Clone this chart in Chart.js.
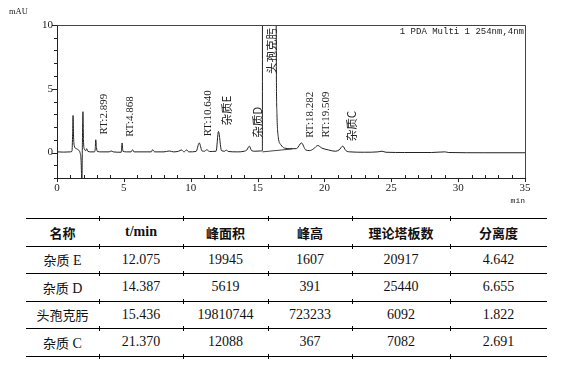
<!DOCTYPE html>
<html>
<head>
<meta charset="utf-8">
<script src="https://cdn.jsdelivr.net/npm/chart.js@4/dist/chart.umd.min.js"></script>
<style>
  html, body { margin: 0; padding: 0; background: #fff; width: 564px; height: 368px; overflow: hidden; }
  #wrap { position: absolute; left: 0; top: 0; width: 564px; height: 210px; }
  #tbl { position: absolute; left: 26px; top: 218px; width: 521px; border-collapse: collapse; table-layout: fixed;
         font-family: "Liberation Serif", "Noto Sans CJK SC", serif; font-size: 14px; color: #111; }
  #tbl td, #tbl th { height: 26.5px; padding: 0; text-align: center; vertical-align: middle;
         border-top: 1.5px solid #000; border-bottom: 1.5px solid #000; white-space: nowrap; }
  #tbl th { font-weight: bold; }
  .cjk { font-family: "Noto Sans CJK SC", sans-serif; font-size: 13px; }
  .mark { position: absolute; width: 1px; height: 5px; background: #000; }
</style>
</head>
<body>
<div id="wrap"><canvas id="c" width="564" height="210"></canvas></div>
<table id="tbl"></table>
<script>
// ---------- chromatogram data ----------
const retentionTime = [
  0.0, 0.5, 1.0, 1.12, 1.17, 1.2, 1.24, 1.3, 1.45, 1.6, 1.72, 1.8, 1.86, 1.9, 1.94, 1.98,
  2.05, 2.15, 2.22, 2.3, 2.5, 2.8, 2.86, 2.899, 2.95, 3.02, 3.3, 3.9, 4.05, 4.2, 4.8, 4.868,
  4.93, 5.2, 5.55, 5.65, 5.75, 6.5, 7.05, 7.15, 7.3, 8.0, 8.4, 8.7, 9.1, 9.3, 9.5, 9.7,
  9.85, 10.4, 10.64, 10.85, 11.05, 11.2, 11.4, 11.9, 12.075, 12.3, 12.55, 12.65, 12.8, 13.5,
  14.0, 14.2, 14.387, 14.55, 14.8, 15.2, 15.36, 15.436, 16.4, 16.45, 16.55, 16.75, 17.0, 17.4,
  17.9, 18.282, 18.6, 18.9, 19.2, 19.509, 19.8, 20.3, 20.8, 21.1, 21.37, 21.6, 21.9, 23.0,
  24.0, 24.3, 24.6, 26.0, 28.0, 29.0, 29.3, 32.0, 35.0
];
const absorbance = [
  0.05, 0.03, 0.05, 0.1, 1.5, 2.9, 1.2, 0.5, 0.3, 0.2, 0.0, -0.6, -2.4, 0.8, 3.2, 1.0,
  0.25, 0.15, 0.3, 0.1, 0.05, 0.05, 0.3, 1.0, 0.4, 0.08, 0.05, 0.05, 0.12, 0.05, 0.02, 0.75,
  0.1, 0.05, 0.05, 0.22, 0.05, 0.05, 0.05, 0.22, 0.05, 0.05, 0.12, 0.05, 0.1, 0.2, 0.05, 0.2,
  0.05, 0.08, 0.75, 0.12, 0.1, 0.22, 0.08, 0.1, 1.65, 0.15, 0.1, 0.2, 0.08, 0.05,
  0.1, 0.2, 0.5, 0.15, 0.1, 0.12, 0.15, 723.2, 8, 3, 1.2, 0.6, 0.35, 0.3,
  0.3, 0.75, 0.2, 0.15, 0.3, 0.55, 0.35, 0.2, 0.1, 0.2, 0.5, 0.15, 0.05, 0.02,
  0.05, 0.1, 0.02, 0.0, 0.0, 0.05, 0.0, -0.02, -0.02
];
const baselineTime = [15.36, 17.6];
const baselineSignal = [0.05, 0.28];

const peakTimes = [2.899, 4.868, 10.640, 12.075, 14.387, 15.436, 18.282, 19.509, 21.370];
const peakLabels = ['RT:2.899', 'RT:4.868', 'RT:10.640', '杂质E', '杂质D', '头孢克肟', 'RT:18.282', 'RT:19.509', '杂质C'];
const peakLabelLevel = [1.41, 1.23, 1.27, 2.11, 1.15, 6.15, 1.15, 1.17, 0.88];

const xLabelValues = [0, 5, 10, 15, 20, 25, 30, 35];
const yLabelValues = [0, 5, 10];
const yUnit = 'mAU';
const xUnit = 'min';
const detectorText = '1 PDA Multi 1 254nm,4nm';

// ---------- table data ----------
const tableHeaders = ['名称', 't/min', '峰面积', '峰高', '理论塔板数', '分离度'];
const compoundNames = ['杂质 E', '杂质 D', '头孢克肟', '杂质 C'];
const tableRetention = ['12.075', '14.387', '15.436', '21.370'];
const tableArea = ['19945', '5619', '19810744', '12088'];
const tableHeight = ['1607', '391', '723233', '367'];
const tablePlates = ['20917', '25440', '6092', '7082'];
const tableResolution = ['4.642', '6.655', '1.822', '2.691'];

// ---------- build table ----------
const colWidths = [73, 84, 85, 84, 98, 97];
(function buildTable() {
  const t = document.getElementById('tbl');
  const cg = document.createElement('colgroup');
  colWidths.forEach(w => { const c = document.createElement('col'); c.style.width = w + 'px'; cg.appendChild(c); });
  t.appendChild(cg);
  const wrapCjk = s => s.replace(/([\u4e00-\u9fff]+)/g, '<span class="cjk">$1</span>');
  let tr = document.createElement('tr');
  tableHeaders.forEach(h => { const th = document.createElement('th'); th.innerHTML = wrapCjk(h); tr.appendChild(th); });
  t.appendChild(tr);
  compoundNames.forEach((n, i) => {
    tr = document.createElement('tr');
    [n, tableRetention[i], tableArea[i], tableHeight[i], tablePlates[i], tableResolution[i]].forEach(v => {
      const td = document.createElement('td'); td.innerHTML = wrapCjk(v); tr.appendChild(td);
    });
    t.appendChild(tr);
  });
  // small boundary marks on the rules
  const rect = t.getBoundingClientRect();
  const rows = t.querySelectorAll('tr');
  const ys = [];
  rows.forEach((r, i) => { const rr = r.getBoundingClientRect(); if (i === 0) ys.push(rr.top); ys.push(rr.bottom); });
  let acc = rect.left;
  const xs = [];
  for (let i = 0; i < colWidths.length - 1; i++) { acc += colWidths[i]; xs.push(acc); }
  ys.forEach(y => xs.forEach(x => {
    const d = document.createElement('div'); d.className = 'mark';
    d.style.left = Math.round(x) + 'px'; d.style.top = Math.round(y - 2.5) + 'px';
    document.body.appendChild(d);
  }));
})();

// ---------- chart ----------
const decorations = {
  id: 'decorations',
  afterDraw(chart) {
    const ctx = chart.ctx, a = chart.chartArea;
    const xs = chart.scales.x, ys = chart.scales.y;
    ctx.save();
    ctx.strokeStyle = '#444';
    ctx.lineWidth = 1;
    // frame top & right
    ctx.beginPath();
    ctx.moveTo(Math.round(a.left), Math.round(a.top) + 0.5);
    ctx.lineTo(Math.round(a.right) + 0.5, Math.round(a.top) + 0.5);
    ctx.lineTo(Math.round(a.right) + 0.5, Math.round(a.bottom));
    ctx.stroke();
    // ticks
    ctx.strokeStyle = '#222';
    ctx.beginPath();
    xs.ticks.forEach(t => {
      const px = Math.round(xs.getPixelForValue(t.value)) + 0.5;
      const b = Math.round(a.bottom);
      if (xLabelValues.includes(t.value)) { ctx.moveTo(px, b); ctx.lineTo(px, b + 4); }
      else { ctx.moveTo(px, b); ctx.lineTo(px, b - 3); }
    });
    ys.ticks.forEach(t => {
      const py = Math.round(ys.getPixelForValue(t.value)) + 0.5;
      const l = Math.round(a.left);
      if (yLabelValues.includes(t.value)) { ctx.moveTo(l - 5, py); ctx.lineTo(l, py); }
      else { ctx.moveTo(l - 3, py); ctx.lineTo(l, py); }
    });
    ctx.stroke();
    // peak labels (rotated)
    ctx.fillStyle = '#222';
    peakLabels.forEach((lab, i) => {
      const px = xs.getPixelForValue(peakTimes[i]) + 8.5;
      const py = ys.getPixelForValue(peakLabelLevel[i]);
      const cjk = /[\u4e00-\u9fff]/.test(lab);
      ctx.font = cjk ? '11.5px "Noto Sans CJK SC"' : '11px "Liberation Serif"';
      ctx.save();
      ctx.translate(px, py);
      ctx.rotate(-Math.PI / 2);
      ctx.textAlign = 'left';
      ctx.textBaseline = 'middle';
      ctx.fillText(lab, 0, 0);
      ctx.restore();
    });
    // detector text
    ctx.font = '9px "Liberation Mono"';
    ctx.textAlign = 'right';
    ctx.textBaseline = 'middle';
    ctx.fillText(detectorText, a.right - 1, a.top + 7);
    // units
    ctx.font = '8.5px "Liberation Serif"';
    ctx.textAlign = 'left';
    ctx.fillText(yUnit, a.left - 48, a.top - 13);
    ctx.font = '8px "Liberation Mono"';
    ctx.textAlign = 'right';
    ctx.fillText(xUnit, a.right, a.bottom + 23);
    ctx.restore();
  }
};

new Chart(document.getElementById('c'), {
  type: 'line',
  data: {
    datasets: [
      {
        data: retentionTime.map((t, i) => ({ x: t, y: absorbance[i] })),
        borderColor: '#222', borderWidth: 1, pointRadius: 0,
        cubicInterpolationMode: 'monotone', fill: false
      },
      {
        data: baselineTime.map((t, i) => ({ x: t, y: baselineSignal[i] })),
        borderColor: '#444', borderWidth: 1, pointRadius: 0, fill: false
      }
    ]
  },
  options: {
    responsive: false,
    animation: false,
    devicePixelRatio: 1,
    layout: { padding: { left: 0, right: 39, top: 25, bottom: 10 } },
    plugins: { legend: { display: false }, tooltip: { enabled: false }, title: { display: false } },
    scales: {
      x: {
        type: 'linear', min: 0, max: 35,
        afterBuildTicks: s => { const t = []; for (let v = 0; v <= 35; v++) t.push({ value: v }); s.ticks = t; },
        afterFit: s => { s.height = 22; },
        grid: { display: false, drawTicks: false },
        border: { display: true, color: '#222', width: 1 },
        ticks: {
          autoSkip: false, maxRotation: 0, padding: 4, color: '#222',
          font: { family: 'Liberation Serif', size: 11 },
          callback: v => xLabelValues.includes(v) ? String(v) : ''
        }
      },
      y: {
        type: 'linear', min: -2, max: 10,
        afterBuildTicks: s => { const t = []; for (let v = -2; v <= 10; v++) t.push({ value: v }); s.ticks = t; },
        afterFit: s => { s.width = 57; },
        grid: { display: false, drawTicks: false },
        border: { display: true, color: '#222', width: 1 },
        ticks: {
          autoSkip: false, padding: 4, color: '#222',
          font: { family: 'Liberation Serif', size: 11 },
          callback: v => yLabelValues.includes(v) ? String(v) : ''
        }
      }
    }
  },
  plugins: [decorations]
});
</script>
</body>
</html>
